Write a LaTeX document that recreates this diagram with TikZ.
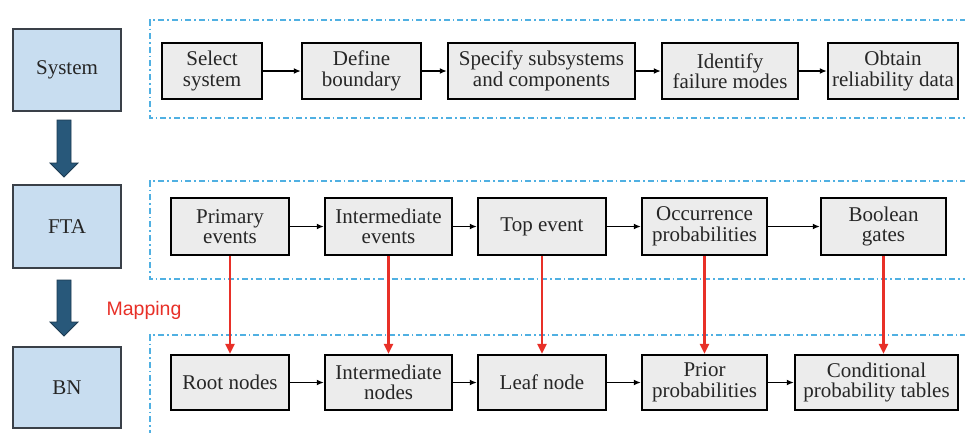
\documentclass[tikz,border=0pt]{standalone}
\usepackage{fontspec}
\setmainfont{Liberation Serif}
\newfontfamily\mapfont{Liberation Sans}
\usetikzlibrary{arrows.meta,calc}

\definecolor{stagefill}{RGB}{200,221,240}
\definecolor{stageline}{RGB}{58,64,72}
\definecolor{stepfill}{RGB}{236,236,236}
\definecolor{frameblue}{RGB}{80,176,226}
\definecolor{flowdark}{RGB}{40,88,122}
\definecolor{flowdarkline}{RGB}{28,58,82}
\definecolor{mapred}{RGB}{232,48,40}

\tikzset{
  stagebox/.style={draw=stageline, line width=2pt, fill=stagefill,
    minimum width=108pt, inner sep=0pt, font=\fontsize{21}{20.5}\selectfont, text=black!85},
  stepbox/.style={draw=black, line width=2.4pt, fill=stepfill, inner sep=0pt,
    align=center, font=\fontsize{21}{20.5}\selectfont, text=black!85},
  framebox/.style={draw=frameblue, line width=1.8pt,
    dash pattern=on 6pt off 3pt on 1.6pt off 3pt},
  flow/.style={draw=black, line width=1.5pt, -{Latex[length=7pt,width=6pt]}},
  mapflow/.style={draw=mapred, line width=2.4pt, -{Triangle[length=10pt,width=9pt]}},
  stagearrow/.style={fill=flowdark, draw=flowdarkline, line width=0.8pt},
}

\begin{document}
\begin{tikzpicture}[x=1pt,y=-1pt]
  \useasboundingbox (0,0) rectangle (965,432);
  \clip (0,0) rectangle (965,432);
  \fill[white] (0,0) rectangle (965,432);

  % dash-dot frames around each row (open on the right and bottom edges)
  \draw[framebox] (980,20) -- (150,20) -- (150,118) -- (980,118);
  \draw[framebox] (980,181) -- (150,181) -- (150,279) -- (980,279);
  \draw[framebox] (980,335) -- (150,335) -- (150,445);

  % stage labels on the left
  \node[stagebox, minimum height=82pt] (sys) at (67,70) {System};
  \node[stagebox, minimum height=83pt] (fta) at (67,226.5) {FTA};
  \node[stagebox, minimum height=81pt] (bn)  at (67,387.5) {BN};

  % block arrows between the stages
  \coordinate (a1) at (64,120);
  \coordinate (a2) at (64,280);
  \foreach \c/\len in {a1/43, a2/42} {
    \draw[stagearrow] (\c) ++(-7,0) -- ++(14,0) -- ++(0,\len) -- ++(7,0)
      -- ++(-14,14) -- ++(-14,-14) -- ++(7,0) -- cycle;
  }

  % system definition steps
  \node[stepbox, minimum width=100pt, minimum height=56pt] (sel)  at (212,71)   {Select\\system};
  \node[stepbox, minimum width=119pt, minimum height=56pt] (def)  at (361.5,71) {Define\\boundary};
  \node[stepbox, minimum width=187pt, minimum height=56pt] (spec) at (541.5,71) {Specify subsystems\\and components};
  \node[stepbox, minimum width=136pt, minimum height=56pt] (iden) at (730,71)   {Identify\\failure modes};
  \node[stepbox, minimum width=130pt, minimum height=56pt] (obt)  at (893,71)   {Obtain\\reliability data};

  % fault tree elements
  \node[stepbox, minimum width=118pt, minimum height=57pt] (prim) at (230,226.5)   {Primary\\events};
  \node[stepbox, minimum width=127pt, minimum height=57pt] (inte) at (388.5,226.5) {Intermediate\\events};
  \node[stepbox, minimum width=128pt, minimum height=57pt] (topv) at (542,226.5)   {Top event};
  \node[stepbox, minimum width=125pt, minimum height=57pt] (occ)  at (704.5,226.5) {Occurrence\\probabilities};
  \node[stepbox, minimum width=125pt, minimum height=57pt] (bool) at (883.5,226.5) {Boolean\\gates};

  % Bayesian network elements
  \node[stepbox, minimum width=118pt, minimum height=55pt] (root)  at (230,382.5)   {Root nodes};
  \node[stepbox, minimum width=127pt, minimum height=55pt] (intn)  at (388.5,382.5) {Intermediate\\nodes};
  \node[stepbox, minimum width=128pt, minimum height=55pt] (leaf)  at (542,382.5)   {Leaf node};
  \node[stepbox, minimum width=125pt, minimum height=55pt] (prior) at (704.5,382.5) {Prior\\probabilities};
  \node[stepbox, minimum width=163pt, minimum height=55pt] (cond)  at (876.5,382.5) {Conditional\\probability tables};

  % flow within each row
  \draw[flow] (sel) -- (def);
  \draw[flow] (def) -- (spec);
  \draw[flow] (spec) -- (iden);
  \draw[flow] (iden) -- (obt);

  \draw[flow] (prim) -- (inte);
  \draw[flow] (inte) -- (topv);
  \draw[flow] (topv) -- (occ);
  \draw[flow] (occ) -- (bool);

  \draw[flow] (root) -- (intn);
  \draw[flow] (intn) -- (leaf);
  \draw[flow] (leaf) -- (prior);
  \draw[flow] (prior) -- (cond);

  % mapping from fault tree to Bayesian network
  \draw[mapflow] (prim.south) -- (prim.south |- root.north);
  \draw[mapflow] (inte.south) -- (inte.south |- intn.north);
  \draw[mapflow] (topv.south) -- (topv.south |- leaf.north);
  \draw[mapflow] (occ.south)  -- (occ.south |- prior.north);
  \draw[mapflow] (bool.south) -- (bool.south |- cond.north);

  \node[text=mapred, font=\mapfont\fontsize{19.5}{20}\selectfont, inner sep=0pt] (map) at (144,310) {Mapping};
\end{tikzpicture}
\end{document}
